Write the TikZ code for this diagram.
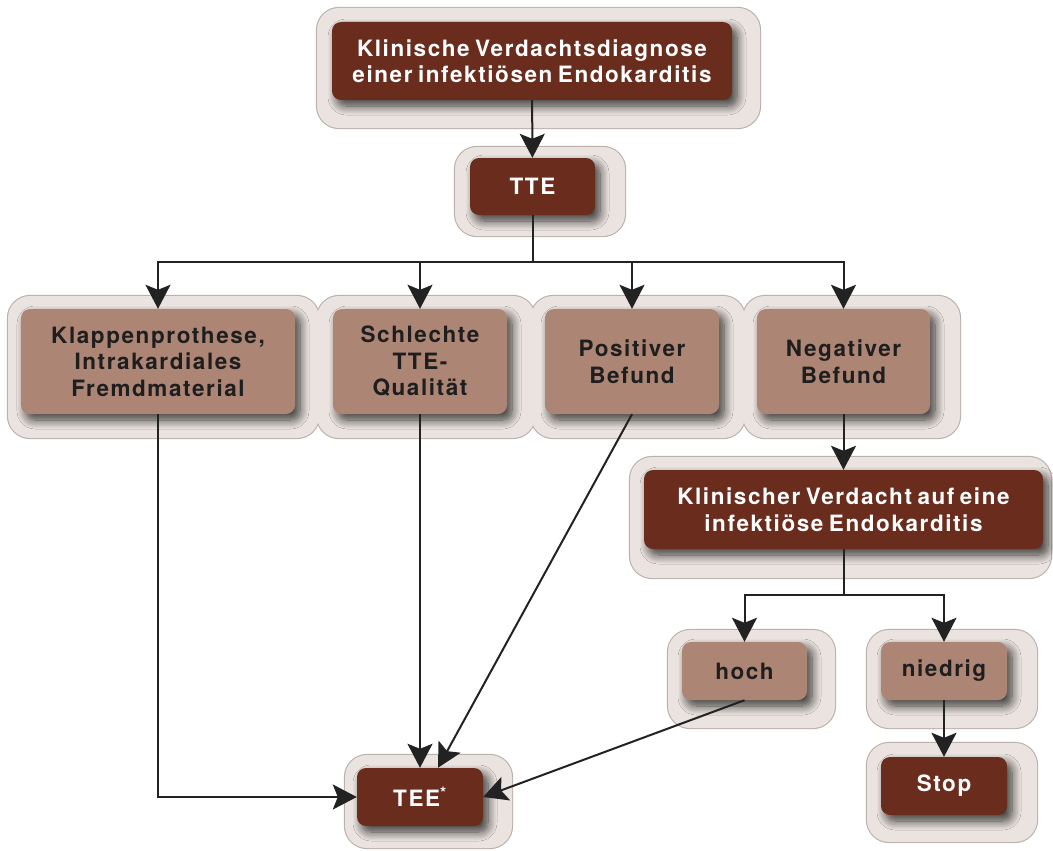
\documentclass[tikz,border=0pt]{standalone}
\usepackage{fontspec}
\setmainfont{TeX Gyre Heros}[LetterSpace=7,WordSpace=0.7]
\usetikzlibrary{shadows.blur,arrows.meta}
\definecolor{darkbr}{HTML}{6A2C1D}
\definecolor{lightbr}{HTML}{AD8575}
\definecolor{halofill}{HTML}{EAE3DF}
\definecolor{haloline}{HTML}{BAB1AC}
\definecolor{linec}{HTML}{222222}
\definecolor{txtdark}{HTML}{1E1E1E}
\begin{document}
\begin{tikzpicture}[x=1pt,y=-1pt,
  haloout/.style={draw=haloline, line width=2.2pt, rounded corners=22pt},
  halofil/.style={fill=halofill, rounded corners=22pt},
  boxbase/.style={rectangle, rounded corners=9pt, align=center, inner sep=0pt,
    font=\bfseries\fontsize{22.5}{26.5}\selectfont,
    blur shadow={shadow xshift=5pt, shadow yshift=-6pt, shadow blur radius=9pt, shadow blur steps=10, shadow opacity=75}},
  darkbox/.style={boxbase, fill=darkbr, text=white},
  lightbox/.style={boxbase, fill=lightbr, text=txtdark},
  conn/.style={draw=linec, line width=2pt},
  arr/.style={conn, -{Stealth[length=24pt,width=25pt,inset=5pt]}}
]
\useasboundingbox (0,0) rectangle (1053,851);
\fill[white] (0,0) rectangle (1053,851);

% halos: outlines first, then fills
\foreach \a/\b/\c/\d in {317/8/760/128, 455/147/625/236, 8/296/319/438, 317/296/535/438, 531/296/745/438, 743/296/960/438, 630/457/1051/578, 668/630/835/728, 867/630/1037/728, 867/743/1037/842, 345/755/512/848}
  \draw[haloout] (\a,\b) rectangle (\c,\d);
\foreach \a/\b/\c/\d in {317/8/760/128, 455/147/625/236, 8/296/319/438, 317/296/535/438, 531/296/745/438, 743/296/960/438, 630/457/1051/578, 668/630/835/728, 867/630/1037/728, 867/743/1037/842, 345/755/512/848}
  \fill[halofil] (\a,\b) rectangle (\c,\d);

% boxes
\node[darkbox, minimum width=400pt, minimum height=78pt] (top) at (532,61) {Klinische Verdachtsdiagnose\\einer infektiösen Endokarditis};
\node[darkbox, minimum width=125pt, minimum height=57pt] (tte) at (532.5,186.5) {TTE};
\node[lightbox, minimum width=274pt, minimum height=105pt] (b1) at (158,361.5) {Klappenprothese,\\Intrakardiales\\Fremdmaterial};
\node[lightbox, minimum width=174pt, minimum height=105pt] (b2) at (420,361.5) {Schlechte\\TTE-\\Qualität};
\node[lightbox, minimum width=174pt, minimum height=105pt] (b3) at (632,361.5) {Positiver\\Befund};
\node[lightbox, minimum width=173pt, minimum height=105pt] (b4) at (843.5,361.5) {Negativer\\Befund};
\node[darkbox, minimum width=399pt, minimum height=79pt] (kv) at (843.5,509.5) {Klinischer Verdacht auf eine\\infektiöse Endokarditis};
\node[lightbox, minimum width=125pt, minimum height=58pt] (hoch) at (744.5,671) {hoch};
\node[lightbox, minimum width=126pt, minimum height=58pt] (nied) at (944,671) {niedrig};
\node[darkbox, minimum width=126pt, minimum height=58pt] (stop) at (944,786) {Stop};
\node[darkbox, minimum width=126pt, minimum height=58pt] (tee) at (420,797) {TEE\textsuperscript{*}};

% connectors
\coordinate (s1) at (532.5,262);
\coordinate (s2) at (843.5,595);
\draw[arr] (top) -- (tte);
\draw[conn] (tte.south) -- (s1);
\draw[arr] (s1) -| (b1.north);
\draw[arr] (s1) -| (b2.north);
\draw[arr] (s1) -| (b3.north);
\draw[arr] (s1) -| (b4.north);
\draw[arr] (b4) -- (kv);
\draw[conn] (kv.south) -- (s2);
\draw[arr] (s2) -| (hoch.north);
\draw[arr] (s2) -| (nied.north);
\draw[arr] (nied) -- (stop);
\draw[arr] (b1.south) |- (tee.west);
\draw[arr] (b2.south) -- (tee.north);
\draw[arr] (b3.south) -- ([xshift=18pt]tee.north);
\draw[arr] (hoch.south) -- (tee.east);
\end{tikzpicture}
\end{document}
